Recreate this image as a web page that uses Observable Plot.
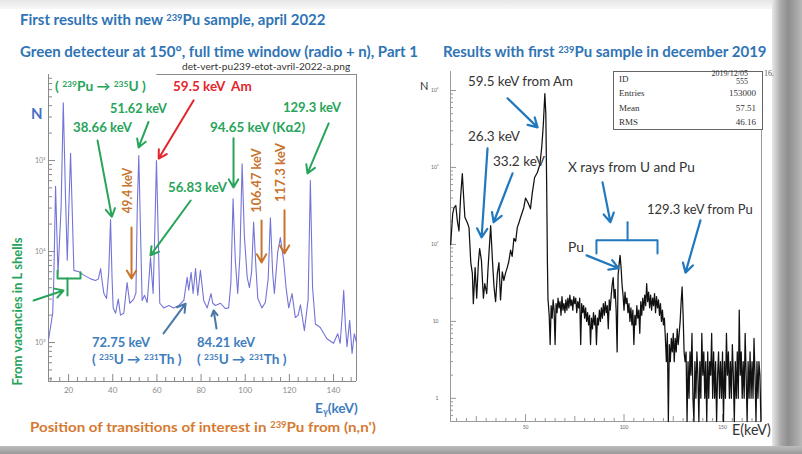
<!DOCTYPE html>
<html><head><meta charset="utf-8">
<script src="https://cdn.jsdelivr.net/npm/d3@7"></script>
<script src="https://cdn.jsdelivr.net/npm/@observablehq/plot@0.6"></script>
<style>
body{margin:0;background:#fff;}
#slide{position:relative;width:802px;height:454px;overflow:hidden;background:#fff;font-family:Lato,"Open Sans",sans-serif;}
.t{position:absolute;white-space:nowrap;line-height:1;}
sup{font-size:0.62em;vertical-align:0.45em;line-height:0;}
sub{font-size:0.62em;vertical-align:-0.25em;line-height:0;}
.plot{position:absolute;top:0;}
#stat{position:absolute;left:613px;top:71px;width:148px;height:57px;border:1px solid #666;border-top-width:1.5px;background:#fff;font-family:"Liberation Serif",serif;font-size:9px;color:#333;}
#stat div{position:absolute;white-space:nowrap;line-height:1;}
</style></head>
<body><div id="slide"></div>
<script>
// ---------- data ----------
const leftSpectrum = [[11,1100],[12.8,2100],[13.3,5000],[14.1,52000],[15.2,5700],[16.6,30000],[17.6,430000],[18.6,40000],[19.4,8000],[20.1,30000],[20.9,120000],[21.7,25000],[22.4,6200],[24.7,6000],[26.9,5500],[30,5000],[32.2,4800],[33.5,5000],[34.5,6500],[35.3,4500],[36,3450],[37.2,3050],[38.2,6000],[39,22500],[39.7,5000],[40.2,2400],[41.3,2100],[42.5,3000],[43.5,2000],[45,2100],[46.5,4550],[47.7,2700],[49.5,3000],[50.5,3500],[51.1,30000],[51.8,113000],[52.5,20000],[53.3,2900],[54.4,3300],[55.6,2750],[56.4,5000],[57.1,8600],[57.8,5000],[58.3,3450],[59,15000],[59.8,100000],[60.6,15000],[61.3,2700],[63.1,2400],[65.4,2550],[67.6,2400],[69.9,2550],[72.2,2900],[73.7,5200],[74.4,3750],[75.5,5900],[76.4,3450],[77.5,6500],[78.5,3300],[79.7,6200],[81.2,2900],[82.8,2400],[84.5,3450],[85.3,2700],[86.5,2550],[88.8,2700],[91,2360],[92.5,2400],[93.5,4500],[94.5,38000],[95.5,8000],[96.6,3450],[97.6,9000],[98.6,92000],[99.6,15000],[100.9,5200],[101.9,4000],[102.9,6000],[103.8,21000],[104.8,7000],[105.7,3050],[107.6,2400],[109.1,2750],[110.4,5000],[111.4,23500],[112.4,6000],[113.2,3450],[114.7,9700],[115.9,14200],[117.4,8000],[118.5,4000],[119.7,2400],[121.2,3450],[122.7,1880],[124,2000],[125,2600],[126.8,1350],[128.5,3000],[129.5,60000],[130.5,4000],[131.8,1600],[134,1460],[137,1100],[140,980],[141.9,1250],[143,980],[143.8,1800],[144.6,3750],[145.4,1500],[146.1,900],[147.3,1750],[148.4,760],[149.4,1250],[150.4,1000]];

const rightSpectrum = [[12,100],[13,250],[13.7,300],[14.6,320],[15.4,200],[16.2,150],[17,400],[17.9,830],[18.6,400],[19.2,225],[20.5,190],[21.3,165],[22.2,58],[23,42],[23.5,17],[24.4,50],[25.2,20],[26.1,60],[26.7,88],[27.6,62],[28.6,20],[29.3,31],[30.3,23],[30.9,46],[31.6,90],[32.3,175],[33.2,62],[34,28],[34.8,18],[35.7,42],[36.5,58],[37.3,19],[38.2,44],[39,34],[39.8,42],[40.7,50],[41.5,60],[42.4,84],[43.2,70],[44.1,120],[45,110],[45.8,165],[46.6,190],[47.5,225],[48.3,260],[49.1,300],[50,400],[51.2,350],[52.5,290],[53.4,460],[54.6,740],[56,860],[57.3,1100],[58.2,1800],[59,3500],[59.8,9100],[60.3,5000],[60.7,680],[61.1,60],[61.4,19],
[61.5,18],[62,12],[62.5,5],[63,16],[63.5,11],[64,19],[64.5,14],[65,5],[65.5,17],[66,13],[66.5,20],[67,15],[67.5,18],[68,12],[68.5,21],[69,14],[69.5,17],[70,13],[70.5,19],[71,14],
[71.5,20],[72,15],[72.5,22],[73,16],[73.5,19],[74,14],[74.5,21],[75,17],[75.5,20],[76,13],[76.5,18],[77,15],[77.5,20],[78,5],[78.5,17],[79,13],[79.5,16],[80,11],[80.5,15],[81,10],
[81.5,13],[82,9],[82.5,12],[83,5],[83.5,11],[84,8],[84.5,13],[85,9],[85.5,12],[86,5],[86.5,11],[87,9],[87.5,14],[88,10],[88.5,15],[89,11],
[89.5,17],[90,12],[90.5,18],[91,13],[91.5,16],[92,8],[92.5,19],[93,14],[93.5,22],
[94,30],[94.5,37],[95,20],[95.5,26],[96,14],[96.5,4],[97,40],[97.5,55],[98,72],[98.5,50],[99,30],[99.5,22],[100,14],[100.5,24],[101,17],
[101.5,20],[102,13],[102.5,17],[103,10],[103.5,15],[104,9],[104.5,14],[105,5],[105.5,12],[106,9],[106.5,16],[107,11],[107.5,14],[108,7],[108.5,18],[109,12],[109.5,20],[110,14],
[110.5,22],[111,16],[111.5,31],[112,18],[112.5,24],[113,15],[113.5,22],[114,14],[114.5,20],[115,16],[115.5,23],[116,13],[116.5,21],[117,15],[117.5,19],[118,12],[118.5,17],[119,10],[119.5,14],[120,9],[120.5,11],
[121,6],[121.5,3],[122,7],[122.5,0.5],[123,5],[123.5,3],[124,6],[124.5,4],[125,7],[125.5,3],[126,6],[126.5,4],[127,8],[127.5,5],[128,7],[128.5,10],
[129,18],[129.5,28],[130,12],[130.5,4],[131,3],
[131.5,4],[132,0.5],[132.5,3],[133,1],[133.5,4],[134,2],[134.5,7],[135,1],[135.5,0.5],[136,3],[136.5,1],[137,4],[137.5,2],[138,0.5],[138.5,3],[139,1],[139.5,7],[140,2],[140.5,4],[141,1],[141.5,3],[142,0.5],[142.5,4],[143,1],[143.5,3],[144,2],[144.5,7],[145,1],[145.5,4],[146,1],[146.5,3],[147,0.5],[147.5,2],[148,4],[148.5,1],[149,3],[149.5,1],[150,4],[150.5,0.5],[151,3],[151.5,1],[152,7],[152.5,2],[153,4],[153.5,1],[154,3],[154.5,1],[155,5],[155.5,2],[156,0.5],[156.5,3],[157,1],[157.5,4],[158,1],[158.5,14],[159,2],[159.5,4],[160,1],[160.5,3],[161,1],[161.5,7],[162,2],[162.5,0.5],[163,3],[163.5,1],[164,4],[164.5,1],[165,3],[165.5,1],[166,6],[166.5,2],[167,0.5],[167.5,3],[168,1],[168.5,3],[169,2],[169.5,0.5]];

const leftXDomain = [10.9, 150.4];
const leftYDomain = [373, 880000];
const leftXTicks = [20,40,60,80,100,120,140];
const leftXMinor = [12,16,24,28,32,36,44,48,52,56,64,68,72,76,84,88,92,96,104,108,112,116,124,128,132,136,144,148];
const leftYTicks = [1000,10000,100000];
const leftYTickLabels = ["10³","10⁴","10⁵"];
const leftYMinor = [400,500,600,700,800,900,2000,3000,4000,5000,6000,7000,8000,9000,20000,30000,40000,50000,60000,70000,80000,90000,200000,300000,400000,500000,600000,700000,800000];

const rightXDomain = [11.9, 169.8];
const rightYDomain = [0.5, 17650];
const rightXTicks = [50,100,150];
const rightXMid = [25,75,125];
const rightXMinor = [15,20,30,35,40,45,55,60,65,70,80,85,90,95,105,110,115,120,130,135,140,145,155,160,165];
const rightYTicks = [1,10,100,1000,10000];
const rightYTickLabels = ["1","10","10²","10³","10⁴"];
const rightYMinor = [0.6,0.7,0.8,0.9,2,3,4,5,6,7,8,9,20,30,40,50,60,70,80,90,200,300,400,500,600,700,800,900,2000,3000,4000,5000,6000,7000,8000,9000];

// annotation arrows in data coordinates: [x1, y1, x2, y2, kind]
const leftArrows = [
  [33.1,166000,39.6,24000,"green"],
  [56.2,265000,51.7,139000,"green"],
  [76.6,457000,60.8,105000,"red"],
  [75.3,36300,57.1,9050,"green"],
  [48.5,18300,48.5,5040,"orange"],
  [94.7,175000,94.7,50500,"green"],
  [107.4,21900,107.4,7580,"orange"],
  [117.8,28300,117.8,9500,"orange"],
  [137.8,256000,128.2,72000,"green"],
  [63,1260,73,2680,"steel"],
  [87,1425,85.7,2250,"steel"],
  [4.15,2890,17.7,3730,"green"]
];
const leftBracket = [
  {x:15.0,y:6200,s:"a"},{x:15.0,y:5040,s:"a"},{x:25.4,y:5040,s:"a"},{x:25.4,y:5900,s:"a"},
  {x:19.5,y:5040,s:"b"},{x:19.5,y:3280,s:"b"}
];
const rightArrows = [
  [40.9,7900,56.1,3320],
  [30.7,1770,27.7,123],
  [43.4,840,33.8,194],
  [89.1,640,93.1,194],
  [81,72,97.2,49],
  [138.8,205,131.2,43]
];
const rightBracket = [
  {x:86.0,y:76,s:"a"},{x:86.0,y:113,s:"a"},{x:117.0,y:113,s:"a"},{x:117.0,y:76,s:"a"},
  {x:101.8,y:113,s:"b"},{x:101.8,y:194,s:"b"}
];

const C = {
  title:"#2f74b5", green:"#27a45a", red:"#e4252b", orange:"#c8742f", orange2:"#d57a30",
  steel:"#3d7dbd", steelArrow:"#4a78a6", nblue:"#4a6fc6", rblue:"#2278bd", grey:"#333"
};
const arrowColor = {green:C.green, red:C.red, orange:C.orange, steel:C.steelArrow};

// ---------- slide decoration ----------
const slide = document.getElementById("slide");
function box(css){const d=document.createElement("div");d.style.cssText="position:absolute;"+css;slide.appendChild(d);return d;}
box("left:0;top:0;width:802px;height:9px;background:linear-gradient(#e6e6e6,#f7f7f7);");
box("left:772px;top:0;width:30px;height:454px;background:linear-gradient(to right,#e8e8e8,#a8a8a8 30%,#8e8e8e 55%,#b8b8b8);");
box("left:0;top:446px;width:802px;height:8px;background:linear-gradient(#bdbdbd,#9a9a9a);");

// ---------- left plot ----------
const left = Plot.plot({
  width: 380, height: 400,
  marginLeft: 48, marginTop: 74, marginRight: 24, marginBottom: 19,
  x: {domain: leftXDomain, axis: null},
  y: {type: "log", domain: leftYDomain, axis: null},
  style: {background: "transparent", overflow: "visible", fontFamily: "Lato, sans-serif", color: "#8a8a8a"},
  marks: [
    Plot.ruleX([leftXDomain[0]], {stroke: "#8a8a8a"}),
    Plot.ruleX([leftXDomain[1]], {stroke: "#8a8a8a"}),
    Plot.ruleY([leftYDomain[0]], {stroke: "#8a8a8a"}),
    Plot.ruleY([leftYDomain[1]], {x1: 60, x2: leftXDomain[1], stroke: "#8a8a8a"}),
    Plot.tickX(leftXMinor, {x: d => d, insetTop: 303, stroke: "#8a8a8a"}),
    Plot.tickX(leftXTicks, {x: d => d, insetTop: 300, stroke: "#8a8a8a"}),
    Plot.tickY(leftYMinor, {y: d => d, insetRight: 304, stroke: "#8a8a8a"}),
    Plot.tickY(leftYTicks, {y: d => d, insetRight: 301, stroke: "#8a8a8a"}),
    Plot.axisX({ticks: leftXTicks, tickSize: 0, tickPadding: 6, fontSize: 8, label: null, fill: "#8a8a8a"}),
    Plot.axisY({ticks: leftYTicks, tickSize: 0, tickPadding: 3, fontSize: 7, label: null, fill: "#8a8a8a",
      tickFormat: d => leftYTickLabels[leftYTicks.indexOf(d)]}),
    Plot.line(leftSpectrum, {x: d => d[0], y: d => d[1], stroke: "#7474d8", strokeWidth: 1.1}),
    Plot.line(leftBracket, {x: "x", y: "y", z: "s", stroke: C.green, strokeWidth: 2}),
    Plot.arrow(leftArrows, {x1: d => d[0], y1: d => d[1], x2: d => d[2], y2: d => d[3],
      stroke: d => arrowColor[d[4]], strokeWidth: 2, headLength: 7})
  ]
});
left.classList.add("plot");
left.style.left = "0px";
slide.appendChild(left);

// ---------- right plot ----------
const right = Plot.plot({
  width: 380, height: 440,
  marginLeft: 50, marginTop: 71, marginRight: 19, marginBottom: 19,
  x: {domain: rightXDomain, axis: null},
  y: {type: "log", domain: rightYDomain, axis: null},
  style: {background: "transparent", overflow: "visible", fontFamily: "Lato, sans-serif", color: "#777"},
  marks: [
    Plot.ruleX([rightXDomain[0]], {stroke: "#9a9a9a"}),
    Plot.ruleX([rightXDomain[1]], {stroke: "#9a9a9a"}),
    Plot.ruleY([rightYDomain[0]], {stroke: "#9a9a9a"}),
    Plot.tickX(rightXMinor, {x: d => d, insetTop: 347, stroke: "#999"}),
    Plot.tickX(rightXMid, {x: d => d, insetTop: 345, stroke: "#999"}),
    Plot.tickX(rightXTicks, {x: d => d, insetTop: 343, stroke: "#999"}),
    Plot.tickY(rightYMinor, {y: d => d, insetRight: 308, stroke: "#999"}),
    Plot.tickY(rightYTicks, {y: d => d, insetRight: 305, stroke: "#999"}),
    Plot.axisX({ticks: rightXTicks, tickSize: 0, tickPadding: 4, fontSize: 5, label: null, fill: "#666"}),
    Plot.axisY({ticks: rightYTicks, tickSize: 0, tickPadding: 12, fontSize: 5, label: null, fill: "#666",
      tickFormat: d => rightYTickLabels[rightYTicks.indexOf(d)]}),
    Plot.line(rightSpectrum, {x: d => d[0], y: d => d[1], stroke: "#111", strokeWidth: 1.25}),
    Plot.line(rightBracket, {x: "x", y: "y", z: "s", stroke: C.rblue, strokeWidth: 2}),
    Plot.arrow(rightArrows, {x1: d => d[0], y1: d => d[1], x2: d => d[2], y2: d => d[3],
      stroke: C.rblue, strokeWidth: 2.2, headLength: 7})
  ]
});
right.classList.add("plot");
right.style.left = "400px";
slide.appendChild(right);

// ---------- stat box ----------
const stat = document.createElement("div");
stat.id = "stat";
stat.innerHTML =
  '<div style="left:5px;top:3px">ID</div>' +
  '<div style="right:14px;top:-2px;font-size:8px">2019/12/05</div>' +
  '<div style="right:14px;top:6px;font-size:8px">555</div>' +
  '<div style="left:5px;top:17px">Entries</div><div style="right:6px;top:17px">153000</div>' +
  '<div style="left:5px;top:32px">Mean</div><div style="right:6px;top:32px">57.51</div>' +
  '<div style="left:5px;top:46px">RMS</div><div style="right:6px;top:46px">46.16</div>';
slide.appendChild(stat);
box("left:764px;top:70px;font-family:'Liberation Serif',serif;font-size:8px;color:#555;line-height:1;").textContent = "16.";

// ---------- texts ----------
function addText(html, o) {
  const el = document.createElement("div");
  el.className = "t";
  el.innerHTML = html;
  el.style.fontSize = o.size + "px";
  el.style.color = o.color;
  el.style.fontWeight = o.bold ? "700" : "400";
  slide.appendChild(el);
  const w = el.offsetWidth, h = el.offsetHeight;
  if (o.vertical) {
    const s = o.len / w;
    el.style.left = (o.cx - w / 2) + "px";
    el.style.top = (o.cy - h / 2) + "px";
    el.style.transformOrigin = "50% 50%";
    el.style.transform = `rotate(-90deg) scaleX(${s})`;
  } else {
    const s = (o.x2 - o.x1) / w;
    el.style.left = o.x1 + "px";
    el.style.top = (o.cy - h * 0.55) + "px";
    el.style.transformOrigin = "0 50%";
    el.style.transform = `scaleX(${s})`;
  }
}
const B = true;
addText("First results with new <sup>239</sup>Pu sample, april 2022", {x1:20, x2:325, cy:20, size:16, color:C.title, bold:B});
addText("Green detecteur at 150°, full time window (radio + n), Part 1", {x1:20, x2:418, cy:52, size:16, color:C.title, bold:B});
addText("Results with first <sup>239</sup>Pu sample in december 2019", {x1:443, x2:767, cy:52, size:16, color:C.title, bold:B});
addText("det-vert-pu239-etot-avril-2022-a.png", {x1:182, x2:350, cy:66, size:10, color:"#333"});
addText("N", {x1:31, x2:43, cy:114, size:15, color:C.nblue, bold:B});
addText("( <sup>239</sup>Pu → <sup>235</sup>U )", {x1:55, x2:146, cy:87, size:13, color:C.green, bold:B});
addText("59.5 keV&nbsp; Am", {x1:173, x2:252, cy:87, size:13, color:C.red, bold:B});
addText("51.62 keV", {x1:110, x2:167, cy:109, size:13, color:C.green, bold:B});
addText("38.66 keV", {x1:73, x2:132, cy:128, size:13, color:C.green, bold:B});
addText("129.3 keV", {x1:283, x2:341, cy:108, size:13, color:C.green, bold:B});
addText("94.65 keV (Kα2)", {x1:210, x2:305, cy:128, size:13, color:C.green, bold:B});
addText("56.83 keV", {x1:168, x2:227, cy:188, size:13, color:C.green, bold:B});
addText("49.4 keV", {vertical:true, cx:127, cy:190, len:45, size:13, color:C.orange, bold:B});
addText("106.47 keV", {vertical:true, cx:257, cy:180, len:65, size:13, color:C.orange, bold:B});
addText("117.3 keV", {vertical:true, cx:281, cy:172, len:59, size:13, color:C.orange, bold:B});
addText("72.75 keV", {x1:92, x2:150, cy:343, size:13, color:C.steel, bold:B});
addText("( <sup>235</sup>U → <sup>231</sup>Th )", {x1:92, x2:182, cy:360, size:13, color:C.steel, bold:B});
addText("84.21 keV", {x1:197, x2:255, cy:343, size:13, color:C.steel, bold:B});
addText("( <sup>235</sup>U → <sup>231</sup>Th )", {x1:197, x2:287, cy:360, size:13, color:C.steel, bold:B});
addText("From vacancies in L shells", {vertical:true, cx:17, cy:311, len:148, size:13, color:C.green, bold:B});
addText("E<sub>γ</sub>(keV)", {x1:315, x2:358, cy:409, size:14, color:C.steel, bold:B});
addText("Position of transitions of interest in <sup>239</sup>Pu from (n,n')", {x1:30, x2:376, cy:428, size:14, color:C.orange2, bold:B});

addText("59.5 keV from Am", {x1:468, x2:573, cy:82, size:14, color:C.grey});
addText("26.3 keV", {x1:468, x2:520, cy:137, size:13, color:C.grey});
addText("33.2 keV", {x1:493, x2:545, cy:162, size:13, color:C.grey});
addText("X rays from U and Pu", {x1:568, x2:695, cy:168, size:13, color:C.grey});
addText("129.3 keV from Pu", {x1:647, x2:753, cy:210, size:13, color:C.grey});
addText("Pu", {x1:568, x2:584, cy:248, size:13, color:C.grey});
addText("E(keV)", {x1:732, x2:771, cy:430, size:15, color:C.grey});
addText("N", {x1:420, x2:428, cy:86, size:11, color:"#333"});
</script>
</body></html>
